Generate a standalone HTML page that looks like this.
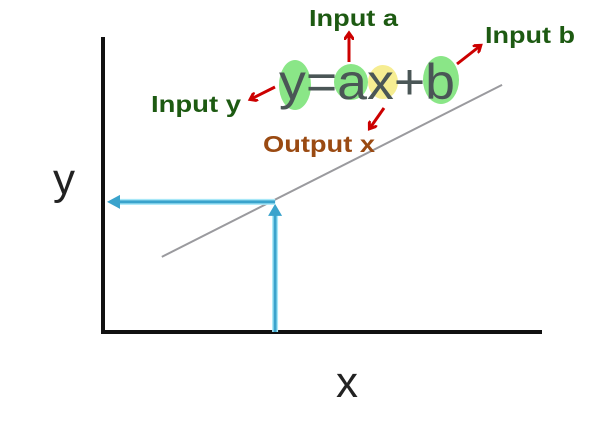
<!DOCTYPE html>
<html><head><meta charset="utf-8"><style>
html,body{margin:0;padding:0;background:#fff;}
svg{display:block;}
.lbl{font-family:"Liberation Sans",sans-serif;font-weight:bold;font-size:23px;}
</style></head><body>
<svg id="chart" width="614" height="422" viewBox="0 0 614 422" xmlns="http://www.w3.org/2000/svg">
<defs>
<marker id="redhead" markerWidth="10" markerHeight="10" refX="6" refY="5" orient="auto" markerUnits="userSpaceOnUse"><path d="M0,0 L7,5 L0,10" fill="none" stroke="#c00" stroke-width="3"/></marker>
</defs>
<g id="axes"></g>
<g id="marks"></g>
<text x="53" y="194" font-family="Liberation Sans, sans-serif" font-size="44" fill="#222">y</text>
<text x="336" y="397" font-family="Liberation Sans, sans-serif" font-size="44" fill="#222">x</text>
<g>
<ellipse cx="295" cy="85" rx="16" ry="25" fill="#7de37a" opacity="0.9"/>
<ellipse cx="351" cy="82" rx="17" ry="18" fill="#7de37a" opacity="0.9"/>
<ellipse cx="383" cy="82" rx="15" ry="17" fill="#f5ec8c" opacity="0.95"/>
<ellipse cx="441" cy="80" rx="18" ry="24" fill="#7de37a" opacity="0.9"/>
<text x="279" y="99" font-family="Liberation Sans, sans-serif" font-size="50" fill="#4a5656" textLength="176" lengthAdjust="spacingAndGlyphs">y=ax+b</text>
</g>
<text class="lbl" x="309" y="26" fill="#1d5a12" textLength="89" lengthAdjust="spacingAndGlyphs">Input a</text>
<text class="lbl" x="485" y="43" fill="#1d5a12" textLength="90" lengthAdjust="spacingAndGlyphs">Input b</text>
<text class="lbl" x="151" y="112" fill="#1d5a12" textLength="90" lengthAdjust="spacingAndGlyphs">Input y</text>
<text class="lbl" x="263" y="152" fill="#9a4a12" textLength="112" lengthAdjust="spacingAndGlyphs">Output x</text>
<g stroke="#c00" stroke-width="3" fill="none">
<line x1="349" y1="62" x2="349" y2="34" marker-end="url(#redhead)"/>
<line x1="457" y1="64" x2="480" y2="46" marker-end="url(#redhead)"/>
<line x1="275" y1="87" x2="251" y2="99" marker-end="url(#redhead)"/>
<line x1="384" y1="108" x2="370" y2="128" marker-end="url(#redhead)"/>
</g>
</svg>
<script>
const lineX = [1.34, 9.09];
const lineY = [2.53, 8.32];
const pointX = [3.92];
const pointY = [4.38];
const NS = "http://www.w3.org/2000/svg";
function xs(v){ return 103 + v * 43.9; }
function ys(v){ return 332 - v * 29.7; }
function mk(tag, attrs, parent){
  const e = document.createElementNS(NS, tag);
  for (const k in attrs) e.setAttribute(k, attrs[k]);
  parent.appendChild(e);
  return e;
}
const axes = document.getElementById('axes');
const marks = document.getElementById('marks');
const ya = mk('path', {d:'M103,37 L103,332 L542,332', fill:'none', stroke:'#111', 'stroke-width':4}, axes);


const ln = mk('line', {x1:xs(lineX[0]), y1:ys(lineY[0]), x2:xs(lineX[1]), y2:ys(lineY[1]), stroke:'#9a9a9e', 'stroke-width':2}, marks);


const px = xs(pointX[0]), py = ys(pointY[0]);
const vg = mk('path', {d:`M${px},332 L${px},${py+10}`, stroke:'#a8e8f8', 'stroke-width':6, fill:'none'}, marks);


const v = mk('path', {d:`M${px},332 L${px},${py+10}`, stroke:'#3aa3cc', 'stroke-width':3, fill:'none'}, marks);


const vh = mk('path', {d:`M${px-7},${py+14} L${px},${py+2} L${px+7},${py+14} Z`, fill:'#3aa3cc'}, marks);


const hg = mk('path', {d:`M${px},${py} L118,${py}`, stroke:'#a8e8f8', 'stroke-width':6, fill:'none'}, marks);


const h = mk('path', {d:`M${px},${py} L118,${py}`, stroke:'#3aa3cc', 'stroke-width':3, fill:'none'}, marks);


const hh = mk('path', {d:`M120,${py-7} L107,${py} L120,${py+7} Z`, fill:'#3aa3cc'}, marks);


</script>
</body></html>
